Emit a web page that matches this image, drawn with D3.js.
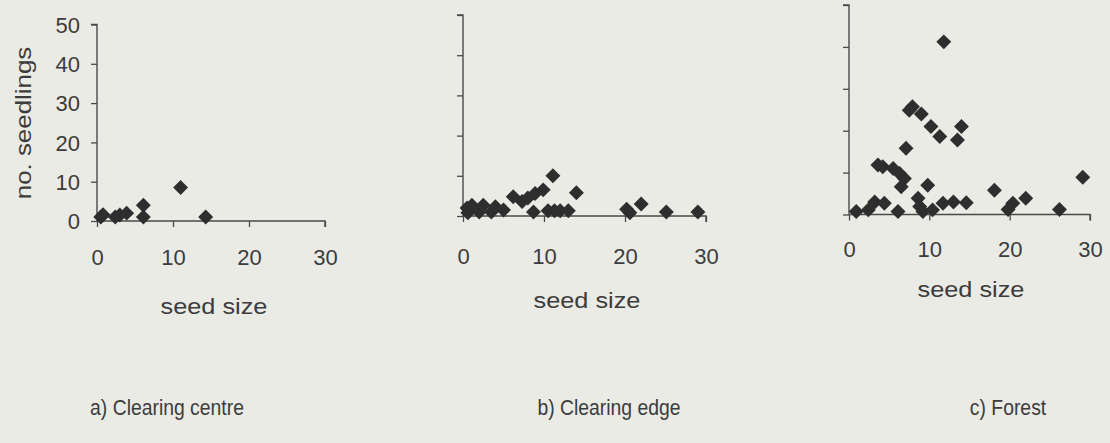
<!DOCTYPE html>
<html>
<head>
<meta charset="utf-8">
<script src="https://cdnjs.cloudflare.com/ajax/libs/d3/7.8.5/d3.min.js"></script>
<style>
  html, body { margin: 0; padding: 0; background: #ebebe5; }
  svg { display: block; }
  text { font-family: "Liberation Sans", Arial, sans-serif; fill: #3c3c3c; }
</style>
</head>
<body>
<svg id="chart" width="1110" height="443"></svg>
<script>
// Seed size vs number of seedlings, three sites
const xTicks = [0, 10, 20, 30];
const yTicks = [0, 10, 20, 30, 40, 50];

// a) Clearing centre
const centreSeedSize = [0.5, 0.8, 2.4, 3.0, 3.9, 6.1, 6.1, 11.0, 14.3];
const centreSeedlings = [1, 1.6, 1, 1.5, 2, 4, 1, 8.5, 1];

// b) Clearing edge
const edgeSeedSize = [0.5, 0.6, 1.1, 2.0, 2.5, 3.5, 4.0, 5.0, 6.2, 7.3, 8.0, 8.7, 8.9, 9.9, 11.1,
  10.5, 11.3, 12.0, 13.0, 14.0, 20.2, 20.6, 22.0, 25.1, 29.0];
const edgeSeedlings = [2, 0.8, 2.7, 1, 2.7, 1, 2.3, 1.5, 4.8, 3.6, 4.5, 1, 5.6, 6.5, 10,
  1.3, 1.3, 1.3, 1.3, 5.8, 1.7, 0.8, 3, 1, 1];

// c) Forest
const forestSeedSize = [0.9, 2.4, 3.2, 4.4, 6.1, 3.6, 4.2, 5.5, 6.3, 6.9, 6.5, 7.1, 7.5, 7.9, 9.0,
  10.2, 11.3, 14.0, 13.5, 9.8, 11.8, 8.6, 8.8, 9.2, 10.4, 11.7, 13.0, 14.6, 18.1, 19.8,
  20.4, 22.0, 26.2, 29.1];
const forestSeedlings = [0.7, 1.1, 3, 2.7, 0.7, 11.8, 11.4, 11, 9.8, 8.6, 6.6, 15.8, 24.9, 25.7, 24,
  21, 18.6, 21, 17.8, 7, 41.2, 3.9, 1.9, 0.7, 1.1, 2.7, 3, 2.8, 5.8, 1.2,
  2.7, 3.9, 1.2, 8.9];

const captions = ["a) Clearing centre", "b) Clearing edge", "c) Forest"];

const panels = [
  { xs: centreSeedSize, ys: centreSeedlings, caption: captions[0],
    x0: 97, x1: 325, y0: 221, y1: 24.5, yLabels: true,
    labelDy: 36, titleX: 214, titleY: 307, captionX: 167 },
  { xs: edgeSeedSize, ys: edgeSeedlings, caption: captions[1],
    x0: 463, x1: 706, y0: 216, y1: 15, yLabels: false,
    labelDy: 40, titleX: 587, titleY: 301, captionX: 609 },
  { xs: forestSeedSize, ys: forestSeedlings, caption: captions[2],
    x0: 849, x1: 1090, y0: 214.5, y1: 5, yLabels: false,
    labelDy: 34.5, titleX: 971, titleY: 290, captionX: 1008 }
];

const svg = d3.select("#chart");
const axisColor = "#4a4a4a";
// square markers turned 45 degrees
const marker = d3.symbol().type(d3.symbolSquare).size(112);

panels.forEach(p => {
  const x = d3.scaleLinear().domain([0, 30]).range([p.x0, p.x1]);
  const y = d3.scaleLinear().domain([0, 50]).range([p.y0, p.y1]);
  const g = svg.append("g");

  // y axis
  const yAxis = d3.axisLeft(y).tickValues(yTicks).tickSize(6).tickPadding(11)
    .tickFormat(p.yLabels ? d3.format("d") : () => "");
  const gy = g.append("g").attr("transform", `translate(${p.x0},0)`).call(yAxis);
  gy.select(".domain").attr("stroke", axisColor).attr("stroke-width", 1.4)
    .attr("d", `M-6,${p.y1}H0V${p.y0}`);
  gy.selectAll(".tick line").attr("stroke", axisColor).attr("stroke-width", 1.3);
  gy.selectAll(".tick text").attr("font-size", 22).attr("fill", "#3c3c3c")
    .attr("font-family", "Liberation Sans, Arial, sans-serif").attr("dy", "0.35em");

  // x axis
  const xAxis = d3.axisBottom(x).tickValues(xTicks).tickSize(6).tickFormat(d3.format("d"));
  const gx = g.append("g").attr("transform", `translate(0,${p.y0})`).call(xAxis);
  gx.select(".domain").attr("stroke", axisColor).attr("stroke-width", 1.4)
    .attr("d", `M${p.x0},0H${p.x1}V6`);
  gx.selectAll(".tick line").attr("stroke", axisColor).attr("stroke-width", 1.3);
  gx.selectAll(".tick text").attr("font-size", 22).attr("fill", "#3c3c3c")
    .attr("font-family", "Liberation Sans, Arial, sans-serif")
    .attr("y", p.labelDy).attr("dy", "0.35em");

  // points
  g.append("g").selectAll("path")
    .data(p.xs.map((v, i) => [v, p.ys[i]]))
    .join("path")
    .attr("d", marker)
    .attr("transform", d => `translate(${x(d[0])},${y(d[1])}) rotate(45)`)
    .attr("fill", "#2e2e2e");

  // x title (slightly wide lettering)
  g.append("text")
    .attr("transform", `translate(${p.titleX},${p.titleY}) scale(1.15,1)`)
    .attr("text-anchor", "middle").attr("dominant-baseline", "central")
    .attr("font-size", 22).text("seed size");

  // caption (narrow lettering)
  g.append("text")
    .attr("transform", `translate(${p.captionX},407) scale(0.88,1)`)
    .attr("text-anchor", "middle").attr("dominant-baseline", "central")
    .attr("font-size", 22).text(p.caption);
});

// y title on first panel
svg.append("text")
  .attr("transform", "translate(23,123) rotate(-90) scale(1.15,1)")
  .attr("text-anchor", "middle").attr("dominant-baseline", "central")
  .attr("font-size", 22.5).text("no. seedlings");
</script>
</body>
</html>
